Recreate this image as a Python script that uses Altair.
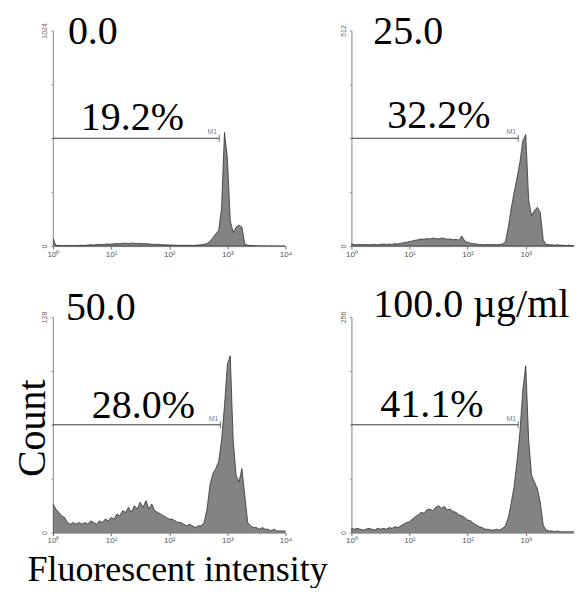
import altair as alt
import pandas as pd

# ---------------- data ----------------
LOG_INTENSITY = [
    0.00, 0.05, 0.10, 0.15, 0.20, 0.25, 0.30, 0.35, 0.40, 0.45,
    0.50, 0.55, 0.60, 0.65, 0.70, 0.75, 0.80, 0.85, 0.90, 0.95,
    1.00, 1.05, 1.10, 1.15, 1.20, 1.25, 1.30, 1.35, 1.40, 1.45,
    1.50, 1.55, 1.60, 1.65, 1.70, 1.75, 1.80, 1.85, 1.90, 1.95,
    2.00, 2.05, 2.10, 2.15, 2.20, 2.25, 2.30, 2.35, 2.40, 2.45,
    2.50, 2.55, 2.60, 2.65, 2.70, 2.75, 2.80, 2.85, 2.90, 2.95,
    3.00, 3.05, 3.10, 3.15, 3.20, 3.25, 3.30, 3.35, 3.40, 3.45,
    3.50, 3.55, 3.60, 3.65, 3.70, 3.75, 3.80, 3.85, 3.90, 3.95,
    4.00,
]

COUNTS_0 = [
    36, 4, 3, 2, 3, 2, 3, 2, 3, 3, 4, 3, 5, 6, 5, 7, 8, 7, 9, 10,
    9, 11, 12, 11, 13, 14, 12, 14, 13, 12, 13, 11, 12, 10, 9, 8, 9, 7, 6, 6,
    5, 5, 4, 4, 3, 4, 3, 4, 3, 4, 5, 6, 9, 12, 22, 40, 58, 74, 180, 540,
    420, 120, 65, 90, 100, 90, 10, 4, 3, 2, 2, 1, 1, 1, 0, 1, 0, 1, 0, 0,
    0,
]

COUNTS_25 = [
    5, 4, 3, 4, 3, 4, 3, 4, 4, 3, 4, 5, 4, 5, 4, 6, 5, 7, 8, 9,
    11, 12, 14, 15, 17, 16, 18, 17, 19, 18, 17, 19, 18, 16, 17, 15, 16, 14, 24, 12,
    9, 7, 6, 5, 4, 4, 3, 4, 3, 4, 3, 4, 5, 10, 45, 90, 128, 162, 200, 250,
    265, 110, 72, 85, 92, 80, 15, 4, 3, 3, 2, 3, 2, 2, 1, 2, 1, 1, 1, 1,
    1,
]

COUNTS_50 = [
    17, 14, 12, 10, 9, 6, 5, 6, 5, 6, 5, 6, 5, 7, 6, 5, 7, 6, 8, 7,
    9, 8, 11, 10, 13, 12, 15, 12, 16, 14, 18, 15, 19, 14, 17, 13, 12, 11, 10, 9,
    8, 8, 7, 6, 6, 5, 4, 5, 4, 3, 4, 4, 6, 14, 28, 35, 38, 42, 55, 75,
    100, 105, 55, 34, 30, 38, 22, 6, 4, 3, 3, 2, 3, 2, 2, 1, 2, 1, 1, 1,
    1,
]

COUNTS_100 = [
    5, 4, 5, 4, 3, 4, 5, 4, 3, 5, 4, 5, 4, 6, 5, 7, 6, 8, 10, 12,
    13, 16, 19, 21, 24, 23, 27, 28, 26, 30, 32, 29, 31, 27, 28, 25, 24, 21, 20, 18,
    15, 14, 11, 9, 7, 6, 4, 4, 3, 3, 4, 3, 5, 8, 18, 35, 55, 85, 120, 170,
    198, 110, 68, 60, 52, 36, 9, 3, 2, 2, 1, 2, 1, 1, 1, 1, 1, 1, 1, 1,
    1,
]

ALL_COUNTS = [COUNTS_0, COUNTS_25, COUNTS_50, COUNTS_100]
DOSES = ["0.0", "25.0", "50.0", "100.0 µg/ml"]
M1_PERCENT = ["19.2%", "32.2%", "28.0%", "41.1%"]
Y_MAX = [1024, 512, 128, 256]
M1_END = [2.86, 2.87, 2.88, 2.87]
GATE = "M1"
DECADE_LABELS = ["10⁰", "10¹", "10²", "10³", "10⁴"]
Y_TITLE = "Count"
X_TITLE = "Fluorescent intensity"

# ---------------- layout / style ----------------
# right-hand panels are cropped at the page edge, as in the reference
PANEL_W = [233, 223, 233, 223]
PANEL_H = 216
X_DOMAIN_MAX = [4.0, 3.83, 4.0, 3.83]
TITLE_POS = [(15, 14), (22, 14), (13, 3), (22, 0)]
PCT_POS = [(28, -8), (36, -10), (39, -7), (29, -8)]

SERIF = "Liberation Serif"
SANS = "Liberation Sans"
YAX = "#a0a0a0"
XAX = "#707070"
INK = "#3a3a3a"

x_label_expr = "[" + ",".join("'%s'" % s for s in DECADE_LABELS) + "][round(datum.value)]"


def panel(i):
    ymax = Y_MAX[i]
    df = pd.DataFrame({"log_intensity": LOG_INTENSITY, "count": ALL_COUNTS[i]})
    gdf = pd.DataFrame({
        "x0": [0.0], "x1": [M1_END[i]], "y": [ymax / 2],
        "gate": [GATE], "pct": [M1_PERCENT[i]],
    })
    tdf = pd.DataFrame({"dose": [DOSES[i]]})

    xs = alt.Scale(domain=[0, X_DOMAIN_MAX[i]], nice=False, zero=False)
    ys = alt.Scale(domain=[0, ymax], nice=False)

    bottom_left = i == 2
    x_kw = dict(
        values=[0, 1, 2, 3, 4], labelExpr=x_label_expr, grid=False,
        domainColor=XAX, domainWidth=1, tickColor=XAX, tickSize=3, tickWidth=1,
        labelFont=SANS, labelFontSize=8, labelColor="#555555", labelPadding=1,
        labelFlush=False, labelOverlap=False,
    )
    y_kw = dict(
        values=[0, ymax / 4, ymax / 2, 3 * ymax / 4, ymax], format="d",
        labelExpr="datum.value == 0 || datum.value == %d ? datum.label : ''" % ymax,
        grid=False, domainColor=YAX, domainWidth=1.3, tickColor="#888888", tickSize=2,
        tickWidth=1, labelFont=SANS, labelFontSize=7, labelColor="#666666",
        labelAngle=270, labelAlign="center", labelBaseline="bottom",
        labelPadding=3, labelOverlap=False, labelFlush=False,
    )
    if bottom_left:
        x_kw.update(title=X_TITLE, titleFont=SERIF, titleFontSize=36,
                    titleFontWeight="normal", titleColor="black",
                    titleX=-26, titleY=48, titleAlign="left",
                    titleBaseline="alphabetic", titleAngle=0)
        y_kw.update(title=Y_TITLE, titleFont=SERIF, titleFontSize=40,
                    titleFontWeight="normal", titleColor="black",
                    titleX=-8, titleY=111, titleAlign="center",
                    titleBaseline="alphabetic", titleAngle=270)
    else:
        x_kw.update(title=None)
        y_kw.update(title=None)

    x_axis = alt.Axis(**x_kw)
    y_axis = alt.Axis(**y_kw)

    area = alt.Chart(df).mark_area(
        fill="#838383", stroke="#1e1e1e", strokeWidth=0.7, clip=True
    ).encode(
        x=alt.X("log_intensity:Q", scale=xs, axis=x_axis),
        y=alt.Y("count:Q", scale=ys, axis=y_axis),
    )

    g = alt.Chart(gdf)
    rule = g.mark_rule(color=INK, strokeWidth=1).encode(
        x=alt.X("x0:Q", scale=xs, axis=x_axis), x2="x1:Q",
        y=alt.Y("y:Q", scale=ys, axis=y_axis),
    )
    cap = g.mark_tick(orient="vertical", size=7, thickness=1, color=INK).encode(
        x=alt.X("x1:Q", scale=xs, axis=x_axis),
        y=alt.Y("y:Q", scale=ys, axis=y_axis),
    )
    m1 = g.mark_text(align="right", baseline="alphabetic", dx=-2, dy=-4,
                     font=SANS, fontSize=7, color="#7c80a6").encode(
        x=alt.X("x1:Q", scale=xs, axis=x_axis),
        y=alt.Y("y:Q", scale=ys, axis=y_axis),
        text="gate:N",
    )
    pct = g.mark_text(align="left", baseline="alphabetic", dy=PCT_POS[i][1],
                      font=SERIF, fontSize=40, color="black").encode(
        x=alt.value(PCT_POS[i][0]),
        y=alt.Y("y:Q", scale=ys, axis=y_axis),
        text="pct:N",
    )
    title = alt.Chart(tdf).mark_text(align="left", baseline="alphabetic",
                                     font=SERIF, fontSize=40, color="black").encode(
        x=alt.value(TITLE_POS[i][0]), y=alt.value(TITLE_POS[i][1]), text="dose:N",
    )
    return alt.layer(area, rule, cap, m1, pct, title).properties(
        width=PANEL_W[i], height=PANEL_H
    )


chart = alt.concat(
    *[panel(i) for i in range(4)],
    columns=2, spacing={"row": 71, "column": 66}, bounds="flush",
).properties(
    padding={"left": 4, "top": 4, "right": 0, "bottom": 0},
).configure_view(strokeWidth=0)

chart.save("out.html", embed_options={"renderer": "svg", "actions": False})
